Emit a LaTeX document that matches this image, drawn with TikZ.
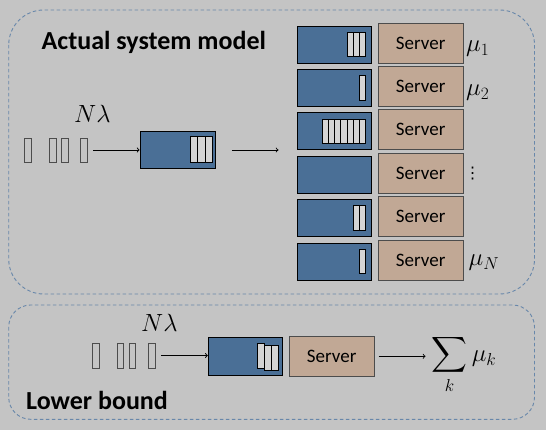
\documentclass[tikz,border=0pt]{standalone}
\usepackage{exscale}
\usepackage{fontspec}
\setmainfont{Carlito}
\newfontfamily\dotsfont{DejaVu Sans}
\usepackage{xcolor}
\usetikzlibrary{positioning,calc}
\definecolor{bggray}{HTML}{C4C4C4}
\definecolor{qblue}{HTML}{4A6F96}
\definecolor{srvtan}{HTML}{C1A895}
\definecolor{jobgray}{HTML}{D4D4D4}
\definecolor{dashblue}{HTML}{6887AA}

\begin{document}
\begin{tikzpicture}[
    x=1pt, y=-1pt,
    qbox/.style={rectangle, draw=black, fill=qblue, line width=0.8pt, minimum width=74pt, minimum height=37pt, inner sep=0pt},
    srv/.style={rectangle, draw=black!70, fill=srvtan, line width=0.9pt, minimum width=84.5pt, minimum height=40pt, inner sep=0pt, font=\fontsize{19}{22}\selectfont},
    job/.style={rectangle, draw=black, fill=jobgray, line width=0.7pt, minimum width=6.2pt, minimum height=24.5pt, inner sep=0pt},
    arrival/.style={rectangle, draw=black!70, line width=0.7pt, minimum width=6.5pt, minimum height=24pt, inner sep=0pt},
    region/.style={draw=dashblue, line width=0.9pt, dash pattern=on 3.5pt off 2.5pt},
    heading/.style={font=\fontsize{26}{30}\selectfont\bfseries, anchor=base west, inner sep=0pt},
    rate/.style={font=\fontsize{24}{28}\selectfont, inner sep=0pt},
    flow/.style={->, >=to, line width=0.9pt}
]
    \fill[bggray] (0,0) rectangle (546,430);
    \useasboundingbox (0,0) rectangle (546,430);
    \draw[region, rounded corners=35pt] (8.7,10) rectangle (534.5,294);
    \draw[region, rounded corners=22pt] (8.7,305) rectangle (534.5,419.3);

    \node[heading] (top) at (41.5,49.3) {Actual system model};
    \node[heading] (bottom) at (26,409.3) {Lower bound};

    \foreach \i/\n in {1/3,2/1,3/7,4/0,5/2,6/1}{
        \pgfmathsetmacro{\yy}{43+43.4*(\i-1)}
        \node[srv] (s\i) at (420.7,\yy) {Server};
        \node[qbox] (q\i) at (334.6,\yy+1.5) {};
        \ifnum\n>0
            \foreach \k in {1,...,\n}
                \node[job] (j\i\k) at (362.5-6.2*\k+6.2,\yy+1.5) {};
        \fi
    }

    \node[rate, anchor=base west] (mu1) at ($(s1.east)+(2.5,9)$) {$\mu_1$};
    \node[rate, anchor=base west] (mu2) at ($(s2.east)+(2.5,9)$) {$\mu_2$};
    \node[font=\fontsize{16}{18}\dotsfont, inner sep=0pt] (dots) at (472.5,173.5) {⋮};
    \node[rate, anchor=base west] (muN) at ($(s6.east)+(5,5.5)$) {$\mu_N$};

    \node[arrival] (a1) at (28,150) {};
    \node[arrival] (a2) at (53,150) {};
    \node[arrival] (a3) at (65,150) {};
    \node[arrival] (a4) at (84,150) {};
    \node[rate, font=\fontsize{26}{30}\selectfont, anchor=base west] (lam) at (74,122.8) {$N\lambda$};
    \node[qbox, minimum width=75pt] (mq) at (177.5,150) {};
    \foreach \k in {1,2,3}
        \node[job, minimum width=7.5pt, minimum height=26pt] (mj\k) at (216.5-7.5*\k,149.7) {};
    \draw[flow, shorten <=5.5pt] (a4) -- (mq);
    \coordinate (split) at (278.5,150);
    \draw[flow, shorten <=16.5pt] (mq.east) -- (split);

    \node[arrival, minimum height=25pt] (b1) at (95.7,355.5) {};
    \node[arrival, minimum height=25pt] (b2) at (120.5,355.5) {};
    \node[arrival, minimum height=25pt] (b3) at (132.3,355.5) {};
    \node[arrival, minimum height=25pt] (b4) at (151.8,355.5) {};
    \node[rate, font=\fontsize{26}{30}\selectfont, anchor=base west] (lam2) at (141,331) {$N\lambda$};
    \node[qbox, minimum width=74.5pt, minimum height=37.7pt] (bq) at (245.5,356.2) {};
    \node[job, minimum width=7.2pt, minimum height=25pt] (bj3) at (275.2,358) {};
    \node[job, minimum width=7.2pt, minimum height=25pt] (bj2) at (268,358) {};
    \node[job, minimum width=7.2pt, minimum height=25pt] (bj1) at (260.8,356) {};
    \node[srv, minimum width=85pt, minimum height=40.7pt] (bs) at (331.7,356.3) {Server};
    \node[rate, anchor=base west] (sum) at (431.5,361.5) {$\displaystyle\sum_k \mu_k$};
    \draw[flow, shorten <=4pt, shorten >=6pt] (bs.east) -- (bs.east -| sum.west);
    \draw[flow, shorten <=6pt] (b4.east) -- (b4.east -| bq.west);
\end{tikzpicture}
\end{document}
